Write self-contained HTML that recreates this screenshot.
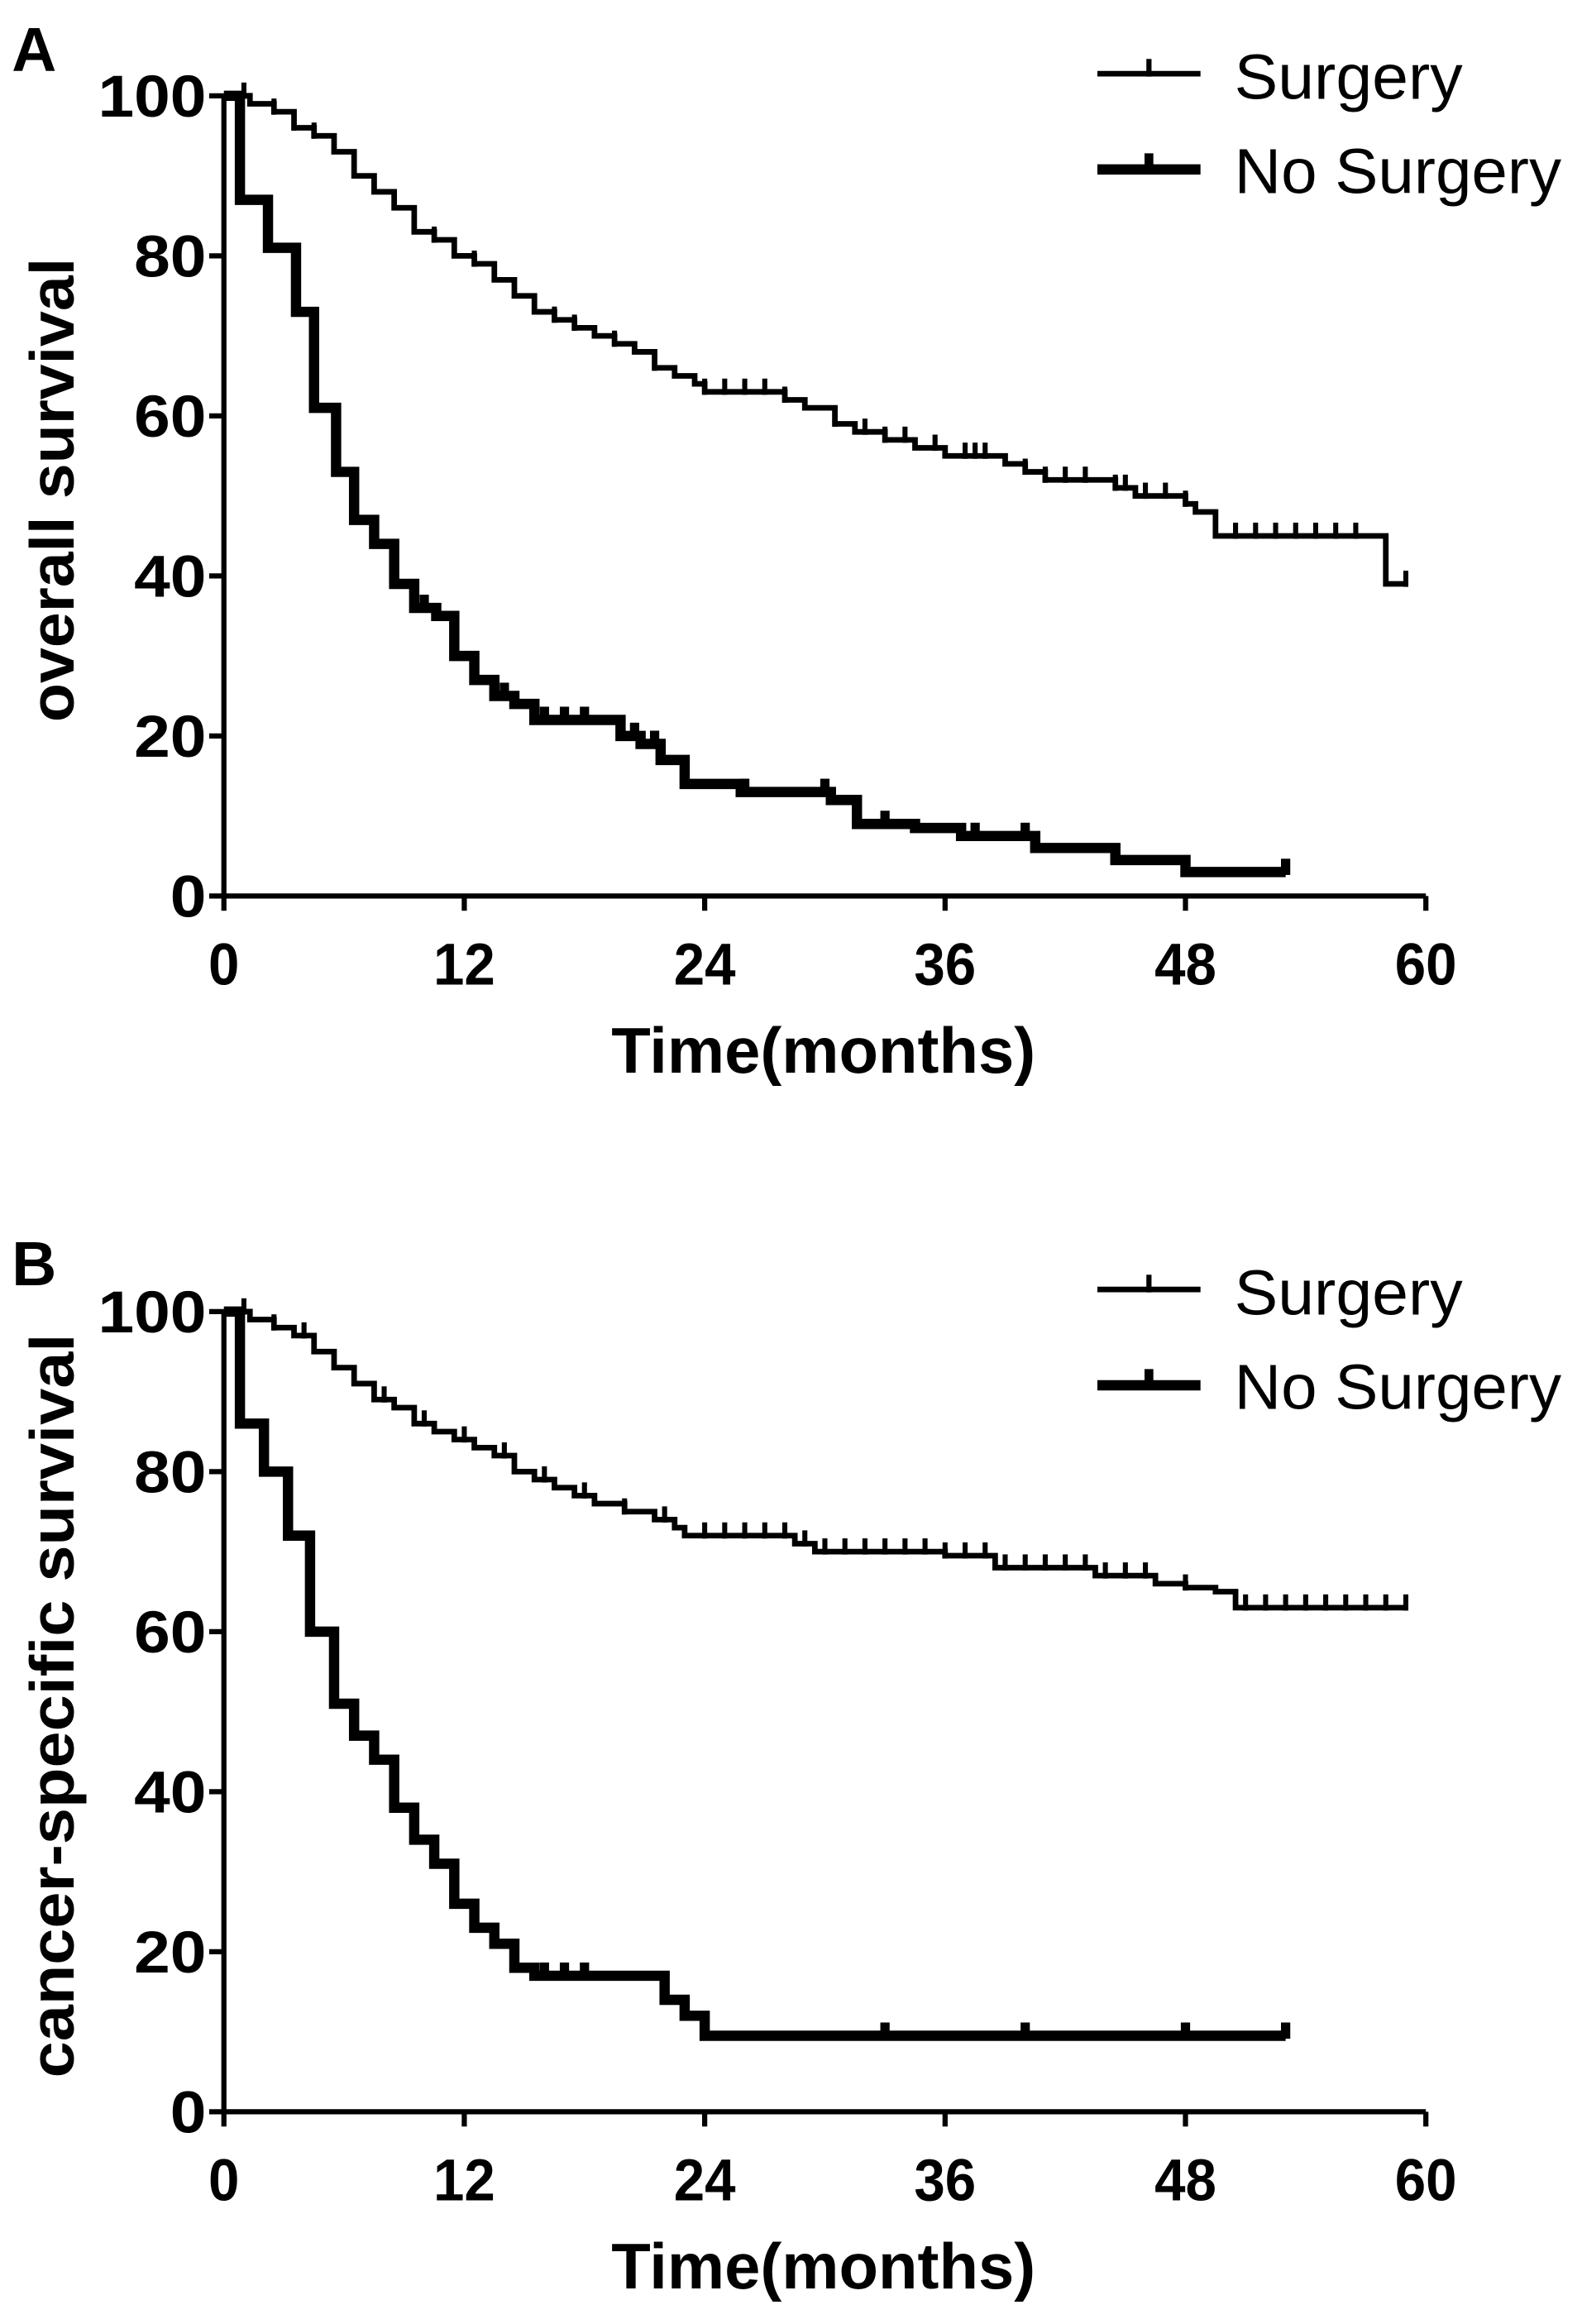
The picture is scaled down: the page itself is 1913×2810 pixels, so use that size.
<!DOCTYPE html>
<html><head><meta charset="utf-8"><style>
html,body{margin:0;padding:0;background:#fff;}
svg{display:block;}
text{font-family:"Liberation Sans",Arial,sans-serif;fill:#000;}
.b{font-weight:bold;}
</style></head><body>
<svg id="s" width="1913" height="2810" viewBox="0 0 1074 1577" preserveAspectRatio="none" xmlns="http://www.w3.org/2000/svg">
<rect width="1074" height="1577" fill="#fff"/>
<g id="g"></g>
<text x="8" y="48" class="b" font-size="42">A</text>
<text x="8" y="872" class="b" font-size="42">B</text>
<text x="415" y="728" class="b" font-size="44" textLength="288" lengthAdjust="spacingAndGlyphs">Time(months)</text>
<text x="415" y="1553" class="b" font-size="44" textLength="288" lengthAdjust="spacingAndGlyphs">Time(months)</text>
<text transform="translate(50,490) rotate(-90)" class="b" font-size="42" textLength="315" lengthAdjust="spacingAndGlyphs">overall survival</text>
<text transform="translate(50,1410) rotate(-90)" class="b" font-size="42" textLength="505" lengthAdjust="spacingAndGlyphs">cancer-specific survival</text>
<text x="838" y="67" font-size="43" textLength="155" lengthAdjust="spacingAndGlyphs">Surgery</text>
<text x="838" y="131" font-size="43" textLength="222" lengthAdjust="spacingAndGlyphs">No Surgery</text>
<text x="838" y="892" font-size="43" textLength="155" lengthAdjust="spacingAndGlyphs">Surgery</text>
<text x="838" y="956" font-size="43" textLength="222" lengthAdjust="spacingAndGlyphs">No Surgery</text>
</svg>
<script>
var g=document.getElementById('g');var NS='http://www.w3.org/2000/svg';
function el(t,a){var e=document.createElementNS(NS,t);for(var k in a)e.setAttribute(k,a[k]);g.appendChild(e);return e;}
function X(t){return 152+13.6*t;}
function axes(y0){
 el('path',{d:'M152 '+(y0-543)+' V'+y0+' H968',stroke:'#000','stroke-width':3.5,fill:'none'});
 for(var v=0;v<=100;v+=20){var y=y0-5.43*v;el('line',{x1:142,x2:152,y1:y,y2:y,stroke:'#000','stroke-width':3.5});
  var s=String(v);var L=24.5*s.length;
  var t=el('text',{x:140-L,y:y+14,'font-size':40,'class':'b',textLength:L,lengthAdjust:'spacingAndGlyphs'});t.textContent=s;}
 for(var m=0;m<=60;m+=12){var x=X(m);el('line',{x1:x,x2:x,y1:y0,y2:y0+10,stroke:'#000','stroke-width':3.5});
  var s=String(m);var L=21*s.length;
  var t=el('text',{x:x-L/2,y:y0+60,'font-size':40,'class':'b',textLength:L,lengthAdjust:'spacingAndGlyphs'});t.textContent=s;}
}
function curve(y0,steps,end,cens,w){
 var d='M'+X(0)+' '+(y0-543);
 steps.forEach(function(s){d+=' H'+X(s[0])+' V'+(y0-5.43*s[1]);});
 d+=' H'+X(end);
 el('path',{d:d,stroke:'#000','stroke-width':w,fill:'none','stroke-linejoin':'miter'});
 cens.forEach(function(c){var y=y0-5.43*c[1];el('line',{x1:X(c[0]),x2:X(c[0]),y1:y-9,y2:y+2,stroke:'#000','stroke-width':w*0.9});});
}
function censAt(steps,ts){var r=[];ts.forEach(function(t){var v=100;steps.forEach(function(s){if(s[0]<=t)v=s[1];});r.push([t,v]);});return r;}
axes(608);axes(1433);
var sA=[[1.3,99],[2.5,98],[3.5,96],[4.5,95],[5.5,93],[6.5,90],[7.5,88],[8.5,86],[9.5,83],[10.5,82],[11.5,80],[12.5,79],[13.5,77],[14.5,75],[15.5,73],[16.5,72],[17.5,71],[18.5,70],[19.5,69],[20.5,68],[21.5,66],[22.5,65],[23.5,64],[24,63],[28,62],[29,61],[30.5,59],[31.5,58],[33,57],[34.5,56],[36,55],[39,54],[40,53],[41,52],[44.5,51],[45.5,50],[48,49],[48.5,48],[49.5,45],[58,39]];
curve(608,sA,59,censAt(sA,[1,2.5,3.5,4.5,10.5,12.5,16.5,17.5,19.5,21.5,24,25,26,27,28,30.5,32,33,34,35.5,37,37.5,38,40,41,42,43,44.5,45,46,47,48,50.5,51.5,52.5,53.5,54.5,55.5,56.5,59]),3.8);
var nA=[[0.8,87],[2.2,81],[3.6,73],[4.5,61],[5.6,53],[6.5,47],[7.5,44],[8.5,39],[9.5,36],[10.6,35],[11.5,30],[12.5,27],[13.5,25],[14.5,24],[15.5,22],[19.8,20],[20.8,19],[21.8,17],[23,14],[25.8,13],[30.3,12],[31.6,9],[34.5,8.5],[36.8,7.5],[40.5,6],[44.5,4.5],[48,3]];
curve(608,nA,53,censAt(nA,[10,14,16,17,18,20.5,21.5,26,30,33,37.5,40,48,53]),7);
var sB=[[1.3,99],[2.5,98],[3.5,97],[4.5,95],[5.5,93],[6.5,91],[7.5,89],[8.5,88],[9.5,86],[10.5,85],[11.5,84],[12.5,83],[13.5,82],[14.5,80],[15.5,79],[16.5,78],[17.5,77],[18.5,76],[20,75],[21.5,74],[22.5,73],[23,72],[28.5,71],[29.5,70],[36,69.5],[38.5,68],[43.5,67],[46.5,66],[48,65.5],[49.5,65],[50.5,63]];
curve(1433,sB,59,censAt(sB,[1,2.5,4,8,10,12,14,16,18,20,22,24,25,26,27,28,29,30,31,32,33,34,35,36,37,38,39,40,41,42,43,44,45,46,48,51,52,53,54,55,56,57,58,59]),3.8);
var nB=[[0.8,86],[2,80],[3.2,72],[4.3,60],[5.5,51],[6.5,47],[7.5,44],[8.5,38],[9.5,34],[10.5,31],[11.5,26],[12.5,23],[13.5,21],[14.5,18],[15.5,17],[22,14],[23,12],[24,9.5]];
curve(1433,nB,53,censAt(nB,[16,17,18,33,40,48,53]),7);
el('line',{x1:745,x2:815,y1:50,y2:50,stroke:'#000','stroke-width':3.8});
el('line',{x1:780,x2:780,y1:40,y2:52,stroke:'#000','stroke-width':3.5});
el('line',{x1:745,x2:815,y1:115,y2:115,stroke:'#000','stroke-width':7});
el('line',{x1:780,x2:780,y1:104,y2:117,stroke:'#000','stroke-width':6});
el('line',{x1:745,x2:815,y1:875,y2:875,stroke:'#000','stroke-width':3.8});
el('line',{x1:780,x2:780,y1:865,y2:877,stroke:'#000','stroke-width':3.5});
el('line',{x1:745,x2:815,y1:940,y2:940,stroke:'#000','stroke-width':7});
el('line',{x1:780,x2:780,y1:929,y2:942,stroke:'#000','stroke-width':6});
</script>
</body></html>
